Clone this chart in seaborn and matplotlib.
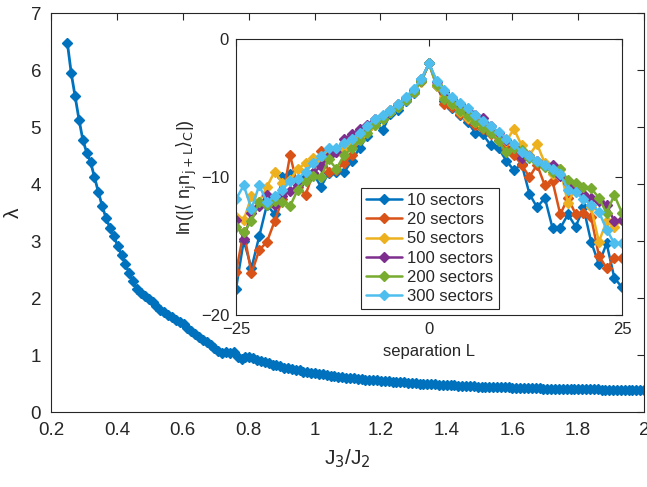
import numpy as np
import pandas as pd
import matplotlib
matplotlib.use("Agg")
import matplotlib.pyplot as plt
import seaborn as sns

# main curve: lambda vs J3/J2
j_ratio = np.linspace(0.25, 2.0, 150)
lam = [6.47, 5.94, 5.54, 5.13, 4.77, 4.55, 4.38, 4.12, 3.86, 3.61,
       3.40, 3.23, 3.09, 2.91, 2.75, 2.59, 2.43, 2.29, 2.15, 2.08,
       2.04, 1.98, 1.93, 1.86, 1.79, 1.76, 1.71, 1.67, 1.62, 1.58,
       1.54, 1.47, 1.42, 1.37, 1.31, 1.26, 1.22, 1.17, 1.12, 1.07,
       1.04, 1.05, 1.03, 1.06, 0.97, 0.93, 0.96, 0.97, 0.95, 0.92,
       0.90, 0.88, 0.86, 0.83, 0.82, 0.80, 0.78, 0.77, 0.75, 0.74,
       0.73, 0.71, 0.70, 0.69, 0.68, 0.67, 0.66, 0.65, 0.64, 0.63,
       0.62, 0.61, 0.605, 0.60, 0.59, 0.58, 0.575, 0.57, 0.565, 0.56,
       0.555, 0.55, 0.545, 0.54, 0.535, 0.53, 0.525, 0.52, 0.515, 0.51,
       0.505, 0.50, 0.495, 0.49, 0.49, 0.485, 0.48, 0.475, 0.47, 0.47,
       0.465, 0.46, 0.46, 0.455, 0.45, 0.45, 0.445, 0.445, 0.44, 0.44,
       0.435, 0.435, 0.43, 0.43, 0.43, 0.425, 0.425, 0.42, 0.42, 0.42,
       0.415, 0.415, 0.415, 0.41, 0.41, 0.41, 0.405, 0.405, 0.405, 0.40,
       0.40, 0.40, 0.40, 0.40, 0.395, 0.395, 0.395, 0.395, 0.39, 0.39,
       0.39, 0.39, 0.39, 0.39, 0.385, 0.385, 0.385, 0.385, 0.385, 0.38]

# inset: correlations vs separation L
sep = list(range(-25, 26))
sectors = ["10 sectors", "20 sectors", "50 sectors",
           "100 sectors", "200 sectors", "300 sectors"]
s10 = [-18.1, -14.6, -16.6, -14.3, -12.0, -12.7, -10.0, -9.8, -10.2, -10.0,
       -9.7, -10.7, -9.7, -9.6, -9.65, -8.8, -7.9, -7.0, -6.1, -6.6,
       -5.4, -5.1, -4.5, -3.9, -2.9, -1.75,
       -3.4, -4.5, -5.0, -5.5, -6.0, -6.8, -6.9, -7.7, -7.9, -8.8,
       -9.5, -9.05, -11.2, -12.2, -11.5, -13.7, -13.7, -12.7, -13.6, -12.2,
       -14.7, -16.3, -14.8, -17.3, -18.0]
s20 = [-16.9, -13.95, -16.98, -15.3, -14.7, -13.2, -11.6, -8.4, -10.7, -11.3,
       -9.7, -8.1, -9.6, -9.5, -9.0, -8.4, -7.2, -6.5, -5.9, -5.6,
       -5.1, -4.7, -4.3, -3.8, -3.0, -1.75,
       -3.3, -4.7, -4.9, -5.4, -5.8, -6.2, -6.5, -6.9, -7.3, -7.9,
       -8.4, -9.1, -10.0, -9.1, -10.6, -10.3, -12.7, -11.5, -12.7, -12.6,
       -12.9, -15.7, -16.6, -15.9, -15.9]
s50 = [-12.9, -13.1, -11.4, -11.8, -10.7, -9.6, -10.4, -10.2, -9.4, -9.0,
       -8.6, -8.9, -8.3, -8.2, -7.9, -7.5, -7.0, -6.5, -6.2, -5.8,
       -5.3, -4.9, -4.4, -3.8, -3.1, -1.75,
       -3.4, -4.2, -4.7, -5.3, -5.7, -6.0, -6.3, -6.6, -7.0, -7.4,
       -6.5, -7.7, -8.4, -7.6, -9.0, -9.8, -9.4, -11.9, -10.7, -11.2,
       -12.2, -14.7, -13.2, -13.6, -13.1]
s100 = [-13.1, -14.5, -12.6, -12.1, -11.3, -12.0, -11.4, -11.0, -10.6, -10.2,
        -9.7, -9.2, -8.5, -8.2, -7.2, -6.9, -6.5, -6.2, -5.8, -5.6,
        -5.2, -4.8, -4.3, -3.7, -3.0, -1.75,
        -3.1, -3.8, -4.3, -4.7, -5.2, -5.5, -5.7, -6.3, -6.8, -7.3,
        -7.8, -8.6, -8.5, -8.8, -9.2, -9.1, -9.9, -10.4, -10.9, -11.2,
        -11.5, -11.7, -12.0, -13.2, -13.1]
s200 = [-13.6, -14.0, -13.2, -11.8, -12.0, -11.7, -11.8, -12.1, -10.9, -10.3,
        -9.9, -10.0, -8.7, -9.4, -8.4, -7.9, -7.3, -6.8, -6.2, -5.8,
        -5.3, -4.9, -4.4, -3.8, -3.0, -1.75,
        -3.3, -4.3, -4.7, -5.2, -5.6, -6.0, -6.4, -6.8, -7.4, -8.2,
        -7.9, -8.0, -8.6, -8.9, -9.3, -9.6, -9.4, -10.2, -10.4, -10.7,
        -10.8, -11.5, -12.6, -11.3, -12.6]
s300 = [-11.6, -10.6, -12.3, -10.6, -11.8, -11.4, -10.9, -10.3, -10.1, -9.6,
        -9.0, -8.5, -7.9, -7.9, -7.5, -7.2, -6.8, -6.3, -5.8, -5.5,
        -5.1, -4.7, -4.2, -3.6, -2.9, -1.75,
        -3.0, -3.7, -4.2, -4.6, -5.0, -5.5, -5.9, -6.3, -6.7, -7.2,
        -7.6, -8.2, -8.5, -8.8, -9.1, -9.4, -9.8, -10.9, -11.1, -11.6,
        -12.0, -12.5, -13.8, -14.8, -14.8]

colors = ["#0072BD", "#D95319", "#EDB120", "#7E2F8E", "#77AC30", "#4DBEEE"]

sns.set_style("white")
plt.rcParams['font.family'] = ['Liberation Sans', 'DejaVu Sans']
plt.rcParams['axes.edgecolor'] = '#262626'
plt.rcParams['xtick.color'] = '#262626'
plt.rcParams['ytick.color'] = '#262626'
plt.rcParams['text.color'] = '#262626'
plt.rcParams['axes.labelcolor'] = '#262626'

fig = plt.figure(figsize=(6.47, 4.87), dpi=100)
ax = fig.add_axes([0.0787, 0.154, 0.9168, 0.8193])

main_df = pd.DataFrame({"J": j_ratio, "lam": lam})
sns.lineplot(data=main_df, x="J", y="lam", ax=ax, color=colors[0],
             marker="D", markersize=5, markeredgewidth=1,
             markeredgecolor=colors[0], linewidth=2)
ax.set_xlim(0.2, 2)
ax.set_ylim(0, 7)
xt = [0.2, 0.4, 0.6, 0.8, 1, 1.2, 1.4, 1.6, 1.8, 2]
ax.set_xticks(xt)
ax.set_xticklabels(["0.2", "0.4", "0.6", "0.8", "1", "1.2", "1.4", "1.6", "1.8", "2"])
ax.set_yticks(range(0, 8))
ax.tick_params(direction="in", top=True, right=True, length=5, width=0.8,
               labelsize=13.5, pad=7)
for sp in ax.spines.values():
    sp.set_linewidth(0.8)
ax.set_xlabel(r"J$_3$/J$_2$", fontsize=15, labelpad=6)
ax.set_ylabel("λ", fontsize=15, labelpad=6)

# inset
axi = fig.add_axes([0.3648, 0.3532, 0.5966, 0.5661])
series = [s10, s20, s50, s100, s200, s300]
for name, vals, c in zip(sectors, series, colors):
    d = pd.DataFrame({"L": sep, "v": vals})
    sns.lineplot(data=d, x="L", y="v", ax=axi, color=c, marker="D",
                 markersize=5, markeredgewidth=1, markeredgecolor=c,
                 linewidth=1.8, label=name)
axi.set_xlim(-25, 25)
axi.set_ylim(-20, 0)
axi.set_xticks([-25, 0, 25])
axi.set_yticks([-20, -10, 0])
axi.tick_params(direction="in", top=True, right=True, length=5, width=0.8,
                labelsize=12, pad=5)
for sp in axi.spines.values():
    sp.set_linewidth(0.8)
axi.set_xlabel("separation L", fontsize=12, labelpad=5)
axi.set_ylabel(r"ln(|$\langle$ n$_{\mathrm{j}}$n$_{\mathrm{j+L}}$$\rangle_{\mathrm{C}}$|)",
               fontsize=13, labelpad=1)
leg = axi.legend(loc="lower left", bbox_to_anchor=(0.323, 0.022), fontsize=12,
                 frameon=True, fancybox=False, edgecolor="#262626",
                 framealpha=1, handlelength=2.2, labelspacing=0.25,
                 borderpad=0.3, handletextpad=0.3, borderaxespad=0)
leg.get_frame().set_linewidth(0.8)

fig.savefig("out.png", dpi=100)
